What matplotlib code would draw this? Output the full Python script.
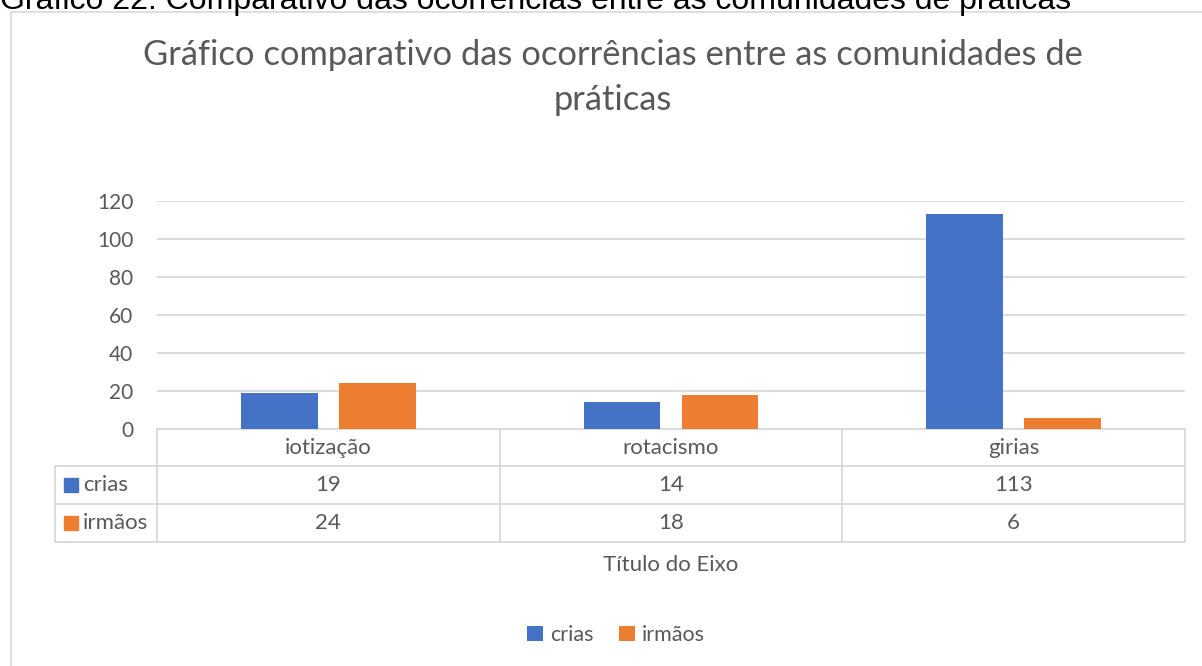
import numpy as np
import matplotlib
matplotlib.use("Agg")
import matplotlib.pyplot as plt
from matplotlib.patches import Rectangle
from matplotlib.transforms import blended_transform_factory

categories = ["iotização", "rotacismo", "girias"]
crias = [19, 14, 113]
irmaos = [24, 18, 6]
series_names = ["crias", "irmãos"]

BLUE = "#4472C4"
ORANGE = "#ED7D31"
GRID = "#D9D9D9"
TEXT = "#595959"
FONT = ["Lato", "DejaVu Sans"]

plt.rcParams["font.family"] = FONT

W, H = 1202, 666
fig = plt.figure(figsize=(W / 100, H / 100), dpi=100)

def fx(px):
    return px / W

def fy(py):
    return 1 - py / H

# chart area border and the (cropped) caption above it
fig.patches.append(Rectangle((fx(11), fy(700)), fx(1230) - fx(11), fy(12) - fy(700),
                             transform=fig.transFigure, fill=False,
                             edgecolor=GRID, lw=1.2))
fig.text(fx(0), fy(9), "Gráfico 22: Comparativo das ocorrências entre as comunidades de práticas",
         family=["Liberation Sans", "DejaVu Sans"], fontsize=23, color="black",
         ha="left", va="baseline")

# chart title, wrapped on two lines like the original
fig.text(fx(613), fy(65), "Gráfico comparativo das ocorrências entre as comunidades de",
         ha="center", va="baseline", fontsize=24.8, color=TEXT)
fig.text(fx(613), fy(110), "práticas",
         ha="center", va="baseline", fontsize=24.8, color=TEXT)

ax = fig.add_axes([fx(157), fy(429), fx(1185) - fx(157), fy(201) - fy(429)])
x = np.arange(len(categories))
width = 0.224
off = 0.143
b1 = ax.bar(x - off, crias, width, color=BLUE, label=series_names[0], zorder=3)
b2 = ax.bar(x + off, irmaos, width, color=ORANGE, label=series_names[1], zorder=3)

ax.set_xlim(-0.5, len(categories) - 0.5)
ax.set_ylim(0, 120)
ax.set_yticks(range(0, 121, 20))
ax.yaxis.grid(True, color=GRID, lw=1.3, zorder=0)
ax.set_axisbelow(True)
for s in ax.spines.values():
    s.set_visible(False)
ax.tick_params(axis="y", length=0, pad=17, labelsize=15, labelcolor=TEXT)
ax.set_xticks([])

# data table under the plot
tr = blended_transform_factory(ax.transData, fig.transFigure)
row_edges = [fy(429), fy(466), fy(504), fy(542)]
left_col = -0.5 - 102 / 342.7
xr = len(categories) - 0.5
line_kw = dict(color=GRID, lw=1.3, transform=tr, clip_on=False)
ax.plot([-0.5, xr], [row_edges[0]] * 2, **line_kw)
for ye in row_edges[1:]:
    ax.plot([left_col, xr], [ye] * 2, **line_kw)
for xe in np.arange(len(categories) + 1) - 0.5:
    ax.plot([xe, xe], [row_edges[0], row_edges[3]], **line_kw)
ax.plot([left_col, left_col], [row_edges[1], row_edges[3]], **line_kw)

def mid(i):
    return (row_edges[i] + row_edges[i + 1]) / 2

for i, cat in enumerate(categories):
    ax.text(i, mid(0), cat, transform=tr, ha="center", va="center",
            fontsize=16, color=TEXT)
    ax.text(i, mid(1), str(crias[i]), transform=tr, ha="center", va="center",
            fontsize=16, color=TEXT)
    ax.text(i, mid(2), str(irmaos[i]), transform=tr, ha="center", va="center",
            fontsize=16, color=TEXT)

for r, (name, col) in enumerate(zip(series_names, [BLUE, ORANGE]), start=1):
    fig.patches.append(Rectangle((fx(64), mid(r) - 7 / H), 14 / W, 14 / H,
                                 transform=fig.transFigure, color=col))
    fig.text(fx(83), mid(r), name, ha="left", va="center", fontsize=16, color=TEXT)

fig.text(fx(671), fy(565), "Título do Eixo", ha="center", va="center",
         fontsize=16, color=TEXT)

fig.legend(handles=[b1, b2], loc="center", bbox_to_anchor=(fx(616), fy(635)),
           ncol=2, frameon=False, fontsize=15.5, labelcolor=TEXT,
           handlelength=0.75, handleheight=0.75, handletextpad=0.3, columnspacing=1.2)

fig.savefig("out.png", dpi=100)
